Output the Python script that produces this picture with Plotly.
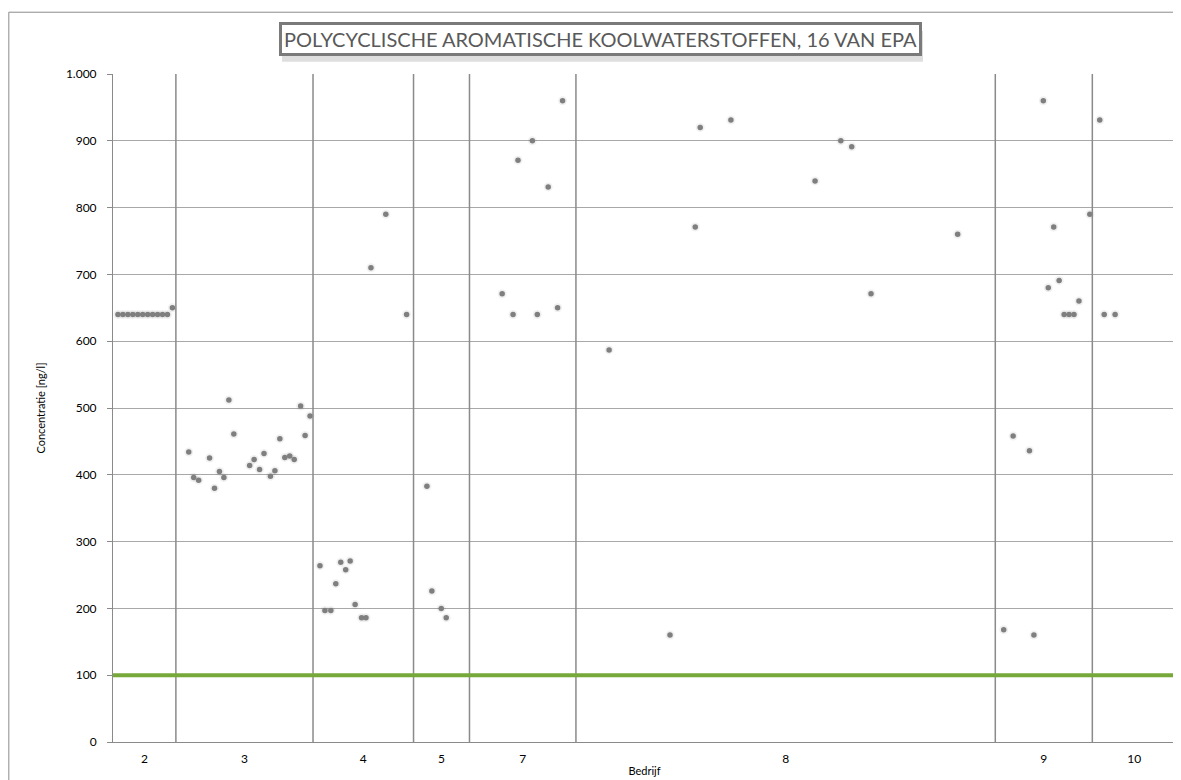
import plotly.graph_objects as go

# ---------------- data ----------------
groups = ["2", "3", "4", "5", "7", "8", "9", "10"]
# group boundaries along the sample-number axis
boundaries = [0, 12.7, 40.4, 60.7, 72.0, 93.5, 178.2, 197.8, 214.7]

x_g2 = [1, 2, 3, 4, 5, 6, 7, 8, 9, 10, 11, 12]
y_g2 = [640, 640, 640, 640, 640, 640, 640, 640, 640, 640, 640, 650]

x_g3 = [15.3, 16.3, 17.3, 19.5, 20.5, 21.5, 22.4, 23.4, 24.4, 27.6, 28.5,
        29.6, 30.5, 31.8, 32.7, 33.7, 34.7, 35.7, 36.6, 37.9, 38.8, 39.8]
y_g3 = [434, 396, 392, 425, 380, 405, 396, 512, 461, 414, 423,
        408, 432, 398, 406, 454, 426, 428, 423, 503, 459, 488]

x_g4 = [41.8, 42.8, 44.0, 45.0, 46.0, 47.0, 47.9, 48.9, 50.2, 51.1, 52.1, 55.1, 59.3]
y_g4 = [264, 197, 197, 237, 269, 258, 271, 206, 186, 186, 710, 790, 640]

x_g5 = [63.4, 64.4, 66.3, 67.3]
y_g5 = [383, 226, 200, 186]

x_g7 = [78.6, 80.8, 81.8, 84.7, 85.7, 87.9, 89.8, 90.8]
y_g7 = [671, 640, 871, 900, 640, 831, 650, 960]

x_g8 = [100.2, 112.5, 117.6, 118.6, 124.8, 141.8, 147.0, 149.2, 153.1, 170.6]
y_g8 = [587, 160, 771, 920, 931, 840, 900, 891, 671, 760]

x_g9 = [179.9, 181.8, 185.1, 186.0, 187.9, 188.9, 190.0, 191.1, 192.1, 193.1, 194.1, 195.1, 197.3]
y_g9 = [168, 458, 436, 160, 960, 680, 771, 691, 640, 640, 640, 660, 790]

x_g10 = [199.3, 200.2, 202.4]
y_g10 = [931, 640, 640]

limit_value = 100
y_ticks = [0, 100, 200, 300, 400, 500, 600, 700, 800, 900, 1000]

title_text = "POLYCYCLISCHE AROMATISCHE KOOLWATERSTOFFEN, 16 VAN EPA"
x_title = "Bedrijf"
y_title = "Concentratie [ng/l]"

# ---------------- figure ----------------
xs = x_g2 + x_g3 + x_g4 + x_g5 + x_g7 + x_g8 + x_g9 + x_g10
ys = y_g2 + y_g3 + y_g4 + y_g5 + y_g7 + y_g8 + y_g9 + y_g10

FONT = "Lato"
GRID = "#a8a8a8"
SEP = "#8a8a8a"

fig = go.Figure()

# soft shadow under the markers
fig.add_trace(go.Scatter(
    x=xs, y=ys, mode="markers",
    marker=dict(size=9, color="rgba(0,0,0,0.06)", line=dict(width=0)),
    hoverinfo="skip", showlegend=False,
))
fig.add_trace(go.Scatter(
    x=xs, y=ys, mode="markers",
    marker=dict(size=5.5, color="#7f7f7f", line=dict(width=0)),
    showlegend=False,
))

centers = [(boundaries[i] + boundaries[i + 1]) / 2 for i in range(len(groups))]

shapes = []
# group separators
for b in boundaries[1:-1]:
    shapes.append(dict(type="line", xref="x", yref="paper", x0=b, x1=b, y0=0, y1=1,
                       line=dict(color=SEP, width=1.5), layer="above"))
# limit line
shapes.append(dict(type="line", xref="paper", yref="y", x0=0, x1=1,
                   y0=limit_value, y1=limit_value,
                   line=dict(color="#77a83a", width=4), layer="above"))
# outer chart frame
shapes.append(dict(type="rect", xref="paper", yref="paper",
                   x0=-0.098, x1=1.002, y0=-0.2, y1=1.0925,
                   line=dict(color="#8c8c8c", width=1), layer="below"))
# title box shadow
shapes.append(dict(type="rect", xref="paper", yref="paper",
                   x0=0.159, x1=0.762, y0=1.0185, y1=1.0645,
                   line=dict(width=0), fillcolor="rgba(0,0,0,0.13)", layer="below"))

fig.update_layout(
    width=1173, height=772,
    margin=dict(l=105, r=5, t=66, b=35),
    paper_bgcolor="white", plot_bgcolor="white",
    separators=",.",
    font=dict(family=FONT, size=12, color="#000000"),
    shapes=shapes,
    showlegend=False,
    annotations=[dict(
        text=title_text, xref="paper", yref="paper", x=0.459, y=1.053,
        xanchor="center", yanchor="middle", showarrow=False,
        font=dict(family=FONT, size=20, color="#595959"),
        bgcolor="white", bordercolor="#7a7a7a", borderwidth=3, borderpad=2,
    )],
)

fig.update_xaxes(
    range=[boundaries[0], boundaries[-1]],
    tickvals=centers, ticktext=groups,
    showgrid=False, zeroline=False,
    showline=True, linecolor=SEP, linewidth=1,
    ticks="", ticklabelstandoff=6,
    tickfont=dict(family=FONT, size=12, color="#000"),
    title=dict(text=x_title, font=dict(family=FONT, size=11, color="#000"), standoff=1),
)
fig.update_yaxes(
    range=[0, 1000],
    tickvals=y_ticks, tickformat=",d",
    showgrid=True, gridcolor=GRID, gridwidth=1,
    zeroline=False,
    showline=True, linecolor=SEP, linewidth=1,
    ticks="outside", ticklen=5, tickcolor=SEP, ticklabelstandoff=8,
    tickfont=dict(family=FONT, size=12, color="#000"),
    title=dict(text=y_title, font=dict(family=FONT, size=11, color="#000"), standoff=18),
)

fig.write_html("out.html")
